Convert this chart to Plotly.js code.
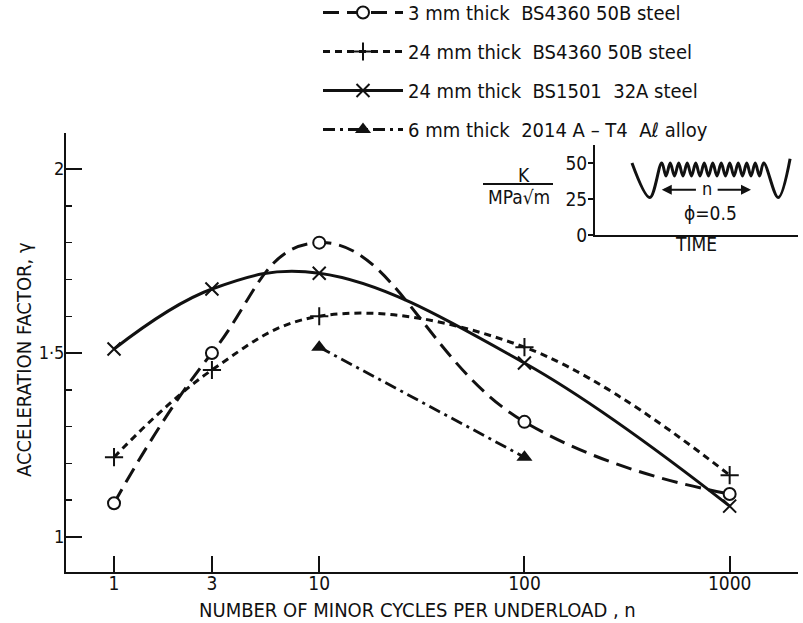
<!DOCTYPE html>
<html>
<head>
<meta charset="utf-8">
<script src="https://cdn.plot.ly/plotly-3.0.1.min.js"></script>
<style>html,body{margin:0;padding:0;background:#fff;}#chart{width:803px;height:623px;}</style>
</head>
<body>
<div id="chart"></div>
<script>
// ---- data ----
var cycles = [1, 3, 10, 100, 1000];
var gamma3mm50B = [1.092, 1.500, 1.800, 1.313, 1.117];
var gamma24mm50B = [1.217, 1.454, 1.600, 1.516, 1.168];
var gamma24mm32A = [1.511, 1.674, 1.717, 1.473, 1.084];
var cyclesAl = [10, 100];
var gammaAl = [1.516, 1.217];
var seriesNames = [
  "3 mm thick  BS4360 50B steel",
  "24 mm thick  BS4360 50B steel",
  "24 mm thick  BS1501  32A steel",
  "6 mm thick  2014 A \u2013 T4  A\u2113 alloy"
];
var xTickVals = [1, 3, 10, 100, 1000];
var xTickText = ["1", "3", "10", "100", "1000"];
var yTickVals = [1, 1.5, 2];
var yTickText = ["1", "1\u00b75", "2"];
// inset load history (schematic): time (in minor cycles) vs K (MPa\u221am)
var insetTime = [0, 2.1, 3.5, 4.0, 4.5, 5.0, 5.5, 6.0, 6.5, 7.0, 7.5, 8.0, 8.5, 9.0, 9.5, 10.0, 10.5, 11.0, 11.5, 12.0, 12.5, 13.0, 13.5, 14.0, 14.5, 15.0, 15.5, 17.2, 18.6];
var insetK = [50, 26, 50, 41, 50, 41, 50, 41, 50, 41, 50, 41, 50, 41, 50, 41, 50, 41, 50, 41, 50, 41, 50, 41, 50, 41, 50, 26, 53];
var insetTicks = [0, 25, 50];

var FONT = '"Liberation Sans Narrow", "DejaVu Sans Condensed", "DejaVu Sans", sans-serif';
var BLACK = '#111';

var traces = [
  {x: cycles, y: gamma3mm50B, name: seriesNames[0], legendgroup: 'a', mode: 'lines+markers',
   line: {color: BLACK, width: 3, dash: '16px,8px', shape: 'spline', smoothing: 1.3},
   marker: {symbol: 'circle', size: 12, color: '#fff', line: {color: BLACK, width: 2}}},
  {x: cycles, y: gamma24mm50B, name: seriesNames[1], legendgroup: 'b', mode: 'lines+markers',
   line: {color: BLACK, width: 3, dash: '7px,5px', shape: 'spline', smoothing: 1.1},
   marker: {symbol: 'cross-thin-open', size: 13, color: BLACK, line: {color: BLACK, width: 2}}},
  {x: cycles, y: gamma24mm32A, name: seriesNames[2], legendgroup: 'c', mode: 'lines+markers',
   line: {color: BLACK, width: 3, shape: 'spline', smoothing: 1.1},
   marker: {symbol: 'x-thin-open', size: 13, color: BLACK, line: {color: BLACK, width: 2}}},
  {x: cyclesAl, y: gammaAl, name: seriesNames[3], legendgroup: 'd', mode: 'lines+markers',
   line: {color: BLACK, width: 2.8, dash: '12px,5px,3px,5px'},
   marker: {symbol: 'triangle-up', size: 14, color: BLACK}},
  {x: insetTime, y: insetK, xaxis: 'x2', yaxis: 'y2', mode: 'lines', showlegend: false,
   line: {color: BLACK, width: 3, shape: 'spline', smoothing: 1}}
];

var L = 66, R = 5, T = 133, B = 51, W = 803, H = 623;
var pw = W - L - R, ph = H - T - B;
function px(x) { return (x - L) / pw; }
function py(y) { return (H - B - y) / ph; }

var layout = {
  width: W, height: H,
  margin: {l: L, r: R, t: T, b: B, autoexpand: false},
  paper_bgcolor: '#fff', plot_bgcolor: '#fff',
  font: {family: FONT, color: BLACK, size: 19},
  showlegend: true,
  legend: {x: px(318), y: py(-7), xanchor: 'left', yanchor: 'top', font: {family: FONT, size: 20, color: BLACK},
           itemwidth: 80, tracegroupgap: 10, bgcolor: 'rgba(0,0,0,0)', traceorder: 'grouped'},
  xaxis: {type: 'log', range: [-0.234, 3.333], domain: [0, 1], showgrid: false, zeroline: false,
          showline: true, linecolor: BLACK, linewidth: 2, ticks: 'inside', ticklen: 16, tickwidth: 2,
          tickcolor: BLACK, tickmode: 'array', tickvals: xTickVals, ticktext: xTickText,
          tickfont: {family: FONT, size: 19}, anchor: 'y', ticklabelstandoff: -7},
  yaxis: {range: [0.905, 2.098], domain: [0, 1], showgrid: false, zeroline: false,
          showline: true, linecolor: BLACK, linewidth: 2, ticks: 'inside', ticklen: 16, tickwidth: 2,
          tickcolor: BLACK, tickmode: 'array', tickvals: yTickVals, ticktext: yTickText,
          tickfont: {family: FONT, size: 18}, anchor: 'x', ticklabelstandoff: -4,
          minor: {dtick: 0.1, ticks: 'inside', ticklen: 6, tickwidth: 1.5, tickcolor: BLACK, showgrid: false}},
  xaxis2: {domain: [px(595), 1], range: [-4.35, 19.53], anchor: 'y2', showgrid: false, zeroline: false,
           showline: true, linecolor: BLACK, linewidth: 2, ticks: '', showticklabels: false,
           title: {text: 'TIME', font: {family: FONT, size: 19}, standoff: 2}},
  yaxis2: {domain: [py(235), py(145)], range: [0, 62.5], anchor: 'x2', showgrid: false, zeroline: false,
           showline: true, linecolor: BLACK, linewidth: 2, ticks: 'outside', ticklen: 5, tickwidth: 2,
           tickcolor: BLACK, tickmode: 'array', tickvals: insetTicks, ticktext: insetTicks.map(String),
           tickfont: {family: FONT, size: 19}, ticklabelstandoff: -3},
  shapes: [
    {type: 'line', xref: 'paper', yref: 'paper', x0: px(483), x1: px(553), y0: py(184), y1: py(184),
     line: {color: BLACK, width: 2}}
  ],
  annotations: [
    {xref: 'paper', yref: 'paper', x: px(24), y: py(360), text: 'ACCELERATION FACTOR, \u03b3', textangle: -90,
     xanchor: 'center', yanchor: 'middle', showarrow: false, font: {family: FONT, size: 20}},
    {xref: 'paper', yref: 'paper', x: px(417), y: py(610), text: 'NUMBER OF MINOR CYCLES PER UNDERLOAD , n',
     xanchor: 'center', yanchor: 'middle', showarrow: false, font: {family: FONT, size: 20}},
    {xref: 'paper', yref: 'paper', x: px(524), y: py(175), text: 'K', showarrow: false,
     xanchor: 'center', yanchor: 'middle', font: {family: FONT, size: 19}},
    {xref: 'paper', yref: 'paper', x: px(519), y: py(197), text: 'MPa\u221am', showarrow: false,
     xanchor: 'center', yanchor: 'middle', font: {family: FONT, size: 19}},
    {xref: 'x2', yref: 'y2', x: 3.5, y: 31.5, axref: 'x2', ayref: 'y2', ax: 7.7, ay: 31.5, text: '',
     showarrow: true, arrowhead: 2, arrowsize: 1, arrowwidth: 2, arrowcolor: BLACK},
    {xref: 'x2', yref: 'y2', x: 14.0, y: 31.5, axref: 'x2', ayref: 'y2', ax: 9.9, ay: 31.5, text: '',
     showarrow: true, arrowhead: 2, arrowsize: 1, arrowwidth: 2, arrowcolor: BLACK},
    {xref: 'x2', yref: 'y2', x: 8.8, y: 32.5, text: 'n', showarrow: false,
     xanchor: 'center', yanchor: 'middle', font: {family: FONT, size: 18}},
    {xref: 'x2', yref: 'y2', x: 9.2, y: 15.3, text: '\u03d5=0.5', showarrow: false,
     xanchor: 'center', yanchor: 'middle', font: {family: FONT, size: 19}}
  ]
};

Plotly.newPlot('chart', traces, layout, {displayModeBar: false, staticPlot: true});
</script>
</body>
</html>
